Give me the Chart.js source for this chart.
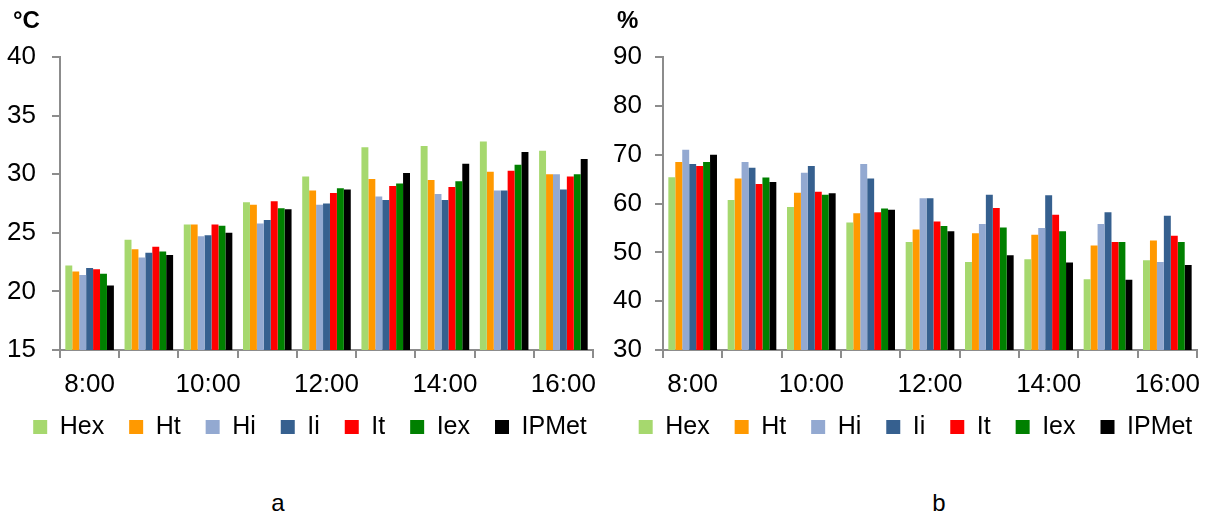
<!DOCTYPE html>
<html>
<head>
<meta charset="utf-8">
<script src="https://cdn.jsdelivr.net/npm/chart.js@4.4.0/dist/chart.umd.min.js"></script>
<style>
  body { margin: 0; width: 1211px; height: 514px; overflow: hidden; background: #fff;
         font-family: "Liberation Sans", Arial, sans-serif; color: #000; position: relative; }
  .box { position: absolute; top: 0; height: 470px; }
  #boxA { left: 0; width: 620px; }
  #boxB { left: 610px; width: 611px; }
  .unit { position: absolute; top: 8px; font-size: 24px; font-weight: bold; line-height: 1; }
  .cap { position: absolute; top: 491px; width: 40px; text-align: center; font-size: 24px; line-height: 1; }
</style>
</head>
<body>
<div class="box" id="boxA"><canvas id="tempChart"></canvas></div>
<div class="box" id="boxB"><canvas id="humChart"></canvas></div>
<div class="unit" style="left:13px">°C</div>
<div class="unit" style="left:617px">%</div>
<div class="cap" style="left:258px">a</div>
<div class="cap" style="left:919px">b</div>

<script>
// categories
const hours = ["8:00", "9:00", "10:00", "11:00", "12:00", "13:00", "14:00", "15:00", "16:00"];
const seriesNames = ["Hex", "Ht", "Hi", "Ii", "It", "Iex", "IPMet"];
const seriesColors = ["#a6d86e", "#ff9900", "#93a9d1", "#36608f", "#ff0000", "#008000", "#000000"];

// a - air temperature (°C)
const tempHex   = [22.2, 24.4, 25.7, 27.6, 29.8, 32.3, 32.4, 32.8, 32.0];
const tempHt    = [21.7, 23.6, 25.7, 27.4, 28.6, 29.6, 29.5, 30.2, 30.0];
const tempHi    = [21.4, 22.9, 24.7, 25.8, 27.4, 28.1, 28.3, 28.6, 30.0];
const tempIi    = [22.0, 23.3, 24.8, 26.1, 27.5, 27.8, 27.8, 28.6, 28.7];
const tempIt    = [21.9, 23.8, 25.7, 27.7, 28.4, 29.0, 28.9, 30.3, 29.8];
const tempIex   = [21.5, 23.4, 25.6, 27.1, 28.8, 29.2, 29.4, 30.8, 30.0];
const tempIPMet = [20.5, 23.1, 25.0, 27.0, 28.7, 30.1, 30.9, 31.9, 31.3];

// b - relative humidity (%)
const humHex   = [65.4, 60.7, 59.3, 56.1, 52.1, 48.0, 48.6, 44.5, 48.4];
const humHt    = [68.5, 65.1, 62.2, 58.0, 54.7, 53.9, 53.6, 51.4, 52.4];
const humHi    = [71.0, 68.5, 66.3, 68.1, 61.1, 55.8, 55.0, 55.8, 48.0];
const humIi    = [68.1, 67.3, 67.7, 65.1, 61.1, 61.8, 61.7, 58.2, 57.5];
const humIt    = [67.7, 64.0, 62.4, 58.2, 56.3, 59.1, 57.7, 52.1, 53.4];
const humIex   = [68.5, 65.3, 61.8, 59.0, 55.4, 55.1, 54.3, 52.1, 52.1];
const humIPMet = [70.0, 64.4, 62.1, 58.7, 54.3, 49.4, 47.9, 44.4, 47.4];

// axis ticks
const tempTicks = { min: 15, max: 40, step: 5 };
const humTicks = { min: 30, max: 90, step: 10 };

Chart.defaults.font.family = "'Liberation Sans', Arial, sans-serif";
Chart.defaults.color = "#000";
Chart.defaults.animation = false;

const axisGray = "#8c8c8c";

// pull the legend up a bit, closer to the x labels
const legendShift = {
  id: "legendShift",
  afterLayout(chart, args, opts) {
    chart.legend.top -= opts.dy;
    chart.legend.bottom -= opts.dy;
  }
};

function buildDatasets(values) {
  return values.map((data, i) => ({
    label: seriesNames[i],
    data: data,
    backgroundColor: seriesColors[i],
    borderWidth: 0,
    categoryPercentage: 0.82,
    barPercentage: 1.0
  }));
}

function makeChart(id, values, range, yWidth, rightSpace, labelPad) {
  const ctx = document.getElementById(id).getContext("2d");
  return new Chart(ctx, {
    type: "bar",
    data: { labels: hours, datasets: buildDatasets(values) },
    plugins: [legendShift],
    options: {
      responsive: true,
      maintainAspectRatio: false,
      layout: { padding: { top: 57, left: 0, right: 0, bottom: 10.5 } },
      plugins: {
        tooltip: { enabled: false },
        legendShift: { dy: 10 },
        legend: {
          position: "bottom",
          labels: { boxWidth: 14, boxHeight: 14, padding: 25, font: { size: 25 } }
        }
      },
      scales: {
        x: {
          grid: { display: true, drawOnChartArea: false, drawTicks: true, tickLength: 8,
                  color: axisGray, lineWidth: 2, offset: true },
          border: { display: true, color: axisGray, width: 2 },
          ticks: {
            autoSkip: false, maxRotation: 0, padding: 11, font: { size: 26 },
            callback: function (val, idx) { return idx % 2 === 0 ? this.getLabelForValue(val) : ""; }
          },
          afterFit: function (scale) { scale.height = 49.5; }
        },
        y: {
          min: range.min, max: range.max,
          grid: { display: true, drawOnChartArea: false, drawTicks: true, tickLength: 8,
                  color: axisGray, lineWidth: 2 },
          border: { display: true, color: axisGray, width: 2 },
          ticks: { stepSize: range.step, padding: labelPad, font: { size: 26 } },
          afterFit: function (scale) { scale.width = yWidth; }
        },
        // empty right-hand spacer so the legend can be centred like the original
        spacer: {
          type: "linear", axis: "y", position: "right", display: true,
          grid: { display: false }, border: { display: false }, ticks: { display: false },
          afterFit: function (scale) { scale.width = rightSpace; }
        }
      }
    }
  });
}

makeChart("tempChart",
  [tempHex, tempHt, tempHi, tempIi, tempIt, tempIex, tempIPMet],
  tempTicks, 60, 27, 16);

makeChart("humChart",
  [humHex, humHt, humHi, humIi, humIt, humIex, humIPMet],
  humTicks, 53, 24, 13);
</script>
</body>
</html>
